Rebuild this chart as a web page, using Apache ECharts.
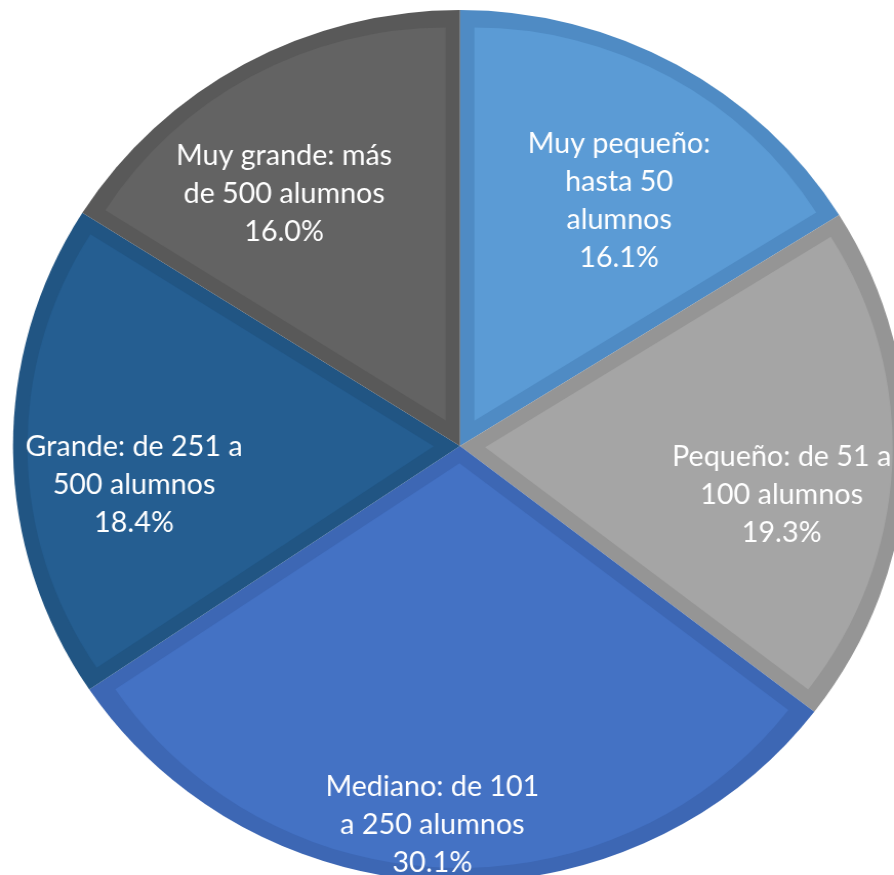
<!DOCTYPE html>
<html><head><meta charset="utf-8">
<script src="https://cdn.jsdelivr.net/npm/echarts@6/dist/echarts.min.js"></script>
<style>
html,body{margin:0;padding:0;background:#fff;overflow:hidden}
#c{width:872px;height:875px;transform:scaleX(1.0252);transform-origin:0 0}
</style>
</head><body><div id="c"></div>
<script>
// Data
const categories = [
  'Muy pequeño: hasta 50 alumnos',
  'Pequeño: de 51 a 100 alumnos',
  'Mediano: de 101 a 250 alumnos',
  'Grande: de 251 a 500 alumnos',
  'Muy grande: más de 500 alumnos'
];
const labelTexts = [
  'Muy pequeño:\nhasta 50\nalumnos',
  'Pequeño: de 51 a\n100 alumnos',
  'Mediano: de 101\na 250 alumnos',
  'Grande: de 251 a\n500 alumnos',
  'Muy grande: más\nde 500 alumnos'
];
const shares = [16.1, 19.3, 30.1, 18.4, 16.0];

// Styles
const fillColors = ['#5B9BD5', '#A5A5A5', '#4472C4', '#255E91', '#636363'];
const bandColors = ['#4F8BC4', '#959595', '#3D67B4', '#215583', '#595959'];
const labelNudge = [[48, -52], [93, 38], [-20, 158], [-97, 36], [-65, -58]];

const CX = 448.7, CY = 446, R = 436, BAND = 14;
const total = shares.reduce((a, b) => a + b, 0);

const series = [];
// Outer darker band: full pie
series.push({
  type: 'pie', silent: true, animation: false,
  center: [CX, CY], radius: [0, R], startAngle: 90, clockwise: true,
  label: {show: false}, labelLine: {show: false}, emphasis: {disabled: true},
  data: shares.map((v, i) => ({name: categories[i], value: v, itemStyle: {color: bandColors[i]}}))
});
// Lighter inner face of each slice, inset by BAND
let acc = 0;
shares.forEach((v, k) => {
  const theta = v / total * 2 * Math.PI;
  const phi = acc + theta / 2;
  acc += theta;
  const c = BAND / Math.sin(theta / 2);
  series.push({
    type: 'pie', silent: true, animation: false,
    center: [CX + c * Math.sin(phi), CY - c * Math.cos(phi)],
    radius: [0, R - BAND - c], startAngle: 90, clockwise: true,
    label: {show: false}, labelLine: {show: false}, emphasis: {disabled: true},
    data: shares.map((w, i) => ({name: categories[i], value: w,
      itemStyle: {color: i === k ? fillColors[i] : 'rgba(0,0,0,0)'}}))
  });
});
// Labels
series.push({
  type: 'pie', silent: true, animation: false, z: 10,
  center: [CX, CY], radius: [0, R], startAngle: 90, clockwise: true,
  emphasis: {disabled: true},
  itemStyle: {color: 'rgba(0,0,0,0)'},
  label: {
    show: true, position: 'inside', color: '#ffffff',
    fontFamily: 'Lato', fontSize: 28, lineHeight: 38, align: 'center',
    formatter: p => labelTexts[p.dataIndex] + '\n' + p.value.toFixed(1) + '%'
  },
  labelLine: {show: false},
  labelLayout: p => ({dx: labelNudge[p.dataIndex][0], dy: labelNudge[p.dataIndex][1]}),
  data: shares.map((v, i) => ({name: categories[i], value: v}))
});

const chart = echarts.init(document.getElementById('c'), null, {renderer: 'canvas'});
chart.setOption({backgroundColor: '#ffffff', animation: false, series});
</script>
</body></html>
